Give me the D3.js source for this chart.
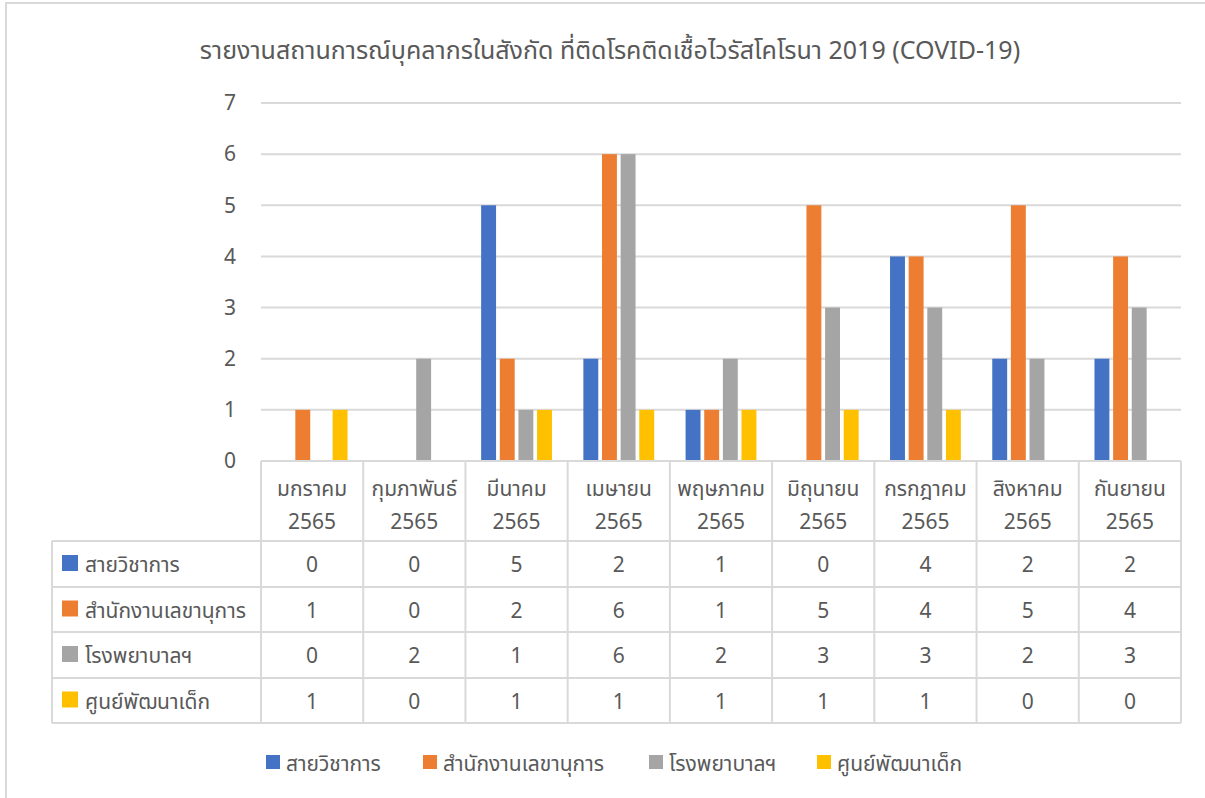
<!DOCTYPE html>
<html>
<head>
<meta charset="utf-8">
<script src="https://cdn.jsdelivr.net/npm/d3@7"></script>
<style>
  body { margin: 0; background: #fff; }
  svg text { font-family: "Noto Sans Thai", "Noto Sans", "DejaVu Sans", sans-serif; fill: #595959; }
</style>
</head>
<body>
<div id="chart"></div>
<script>
// data
const months = ["มกราคม", "กุมภาพันธ์", "มีนาคม", "เมษายน", "พฤษภาคม", "มิถุนายน", "กรกฎาคม", "สิงหาคม", "กันยายน"];
const year = "2565";
const seriesNames = ["สายวิชาการ", "สำนักงานเลขานุการ", "โรงพยาบาลฯ", "ศูนย์พัฒนาเด็ก"];
const academic = [0, 0, 5, 2, 1, 0, 4, 2, 2];
const secretariat = [1, 0, 2, 6, 1, 5, 4, 5, 4];
const hospital = [0, 2, 1, 6, 2, 3, 3, 2, 3];
const childCenter = [1, 0, 1, 1, 1, 1, 1, 0, 0];
const yTicks = [0, 1, 2, 3, 4, 5, 6, 7];
const colors = ["#4472C4", "#ED7D31", "#A5A5A5", "#FFC000"];
const title = "รายงานสถานการณ์บุคลากรในสังกัด ที่ติดโรคติดเชื้อไวรัสโคโรนา 2019 (COVID-19)";

const series = [academic, secretariat, hospital, childCenter];

const W = 1205, H = 798;
const fs = "21px";
const svg = d3.select("#chart").append("svg")
    .attr("width", W)
    .attr("height", H);

// outer frame
svg.append("rect")
    .attr("x", 6).attr("y", 3)
    .attr("width", W + 10).attr("height", H + 10)
    .attr("fill", "#fff")
    .attr("stroke", "#d9d9d9")
    .attr("stroke-width", 2);

svg.append("text")
    .attr("x", 610).attr("y", 59)
    .attr("text-anchor", "middle")
    .style("font-size", "25px")
    .text(title);

const plotLeft = 261, plotRight = 1181, plotTop = 103, plotBottom = 461;
const tableLeft = 52;
const rowLines = [541, 587, 632, 678, 723];

let x0 = d3.scaleBand()
    .domain(months)
    .range([plotLeft, plotRight])
    .padding(0);

let inset = 15.7;
let x1 = d3.scaleBand()
    .domain(d3.range(seriesNames.length))
    .range([inset, x0.bandwidth() - inset])
    .paddingInner(0.2);

let y = d3.scaleLinear()
    .domain([0, 7])
    .range([plotBottom, plotTop]);

// gridlines
svg.append("g")
    .selectAll("line")
    .data(yTicks.filter(d => d > 0))
    .enter()
    .append("line")
    .attr("x1", plotLeft).attr("x2", plotRight)
    .attr("y1", d => y(d)).attr("y2", d => y(d))
    .attr("stroke", "#d9d9d9")
    .attr("stroke-width", 2);

// y axis labels
let yAxis = svg.append("g")
    .attr("transform", "translate(" + (plotLeft - 25) + ",0)")
    .call(d3.axisLeft(y).tickValues(yTicks).tickFormat(d3.format("d")).tickSize(0).tickPadding(0));
yAxis.select(".domain").remove();
yAxis.selectAll("text")
    .style("font-size", fs)
    .attr("fill", "#595959");

// bars
const barData = [];
series.forEach((vals, s) => {
    vals.forEach((v, i) => barData.push({month: months[i], s: s, value: v}));
});

svg.append("g")
    .selectAll("rect")
    .data(barData.filter(d => d.value > 0))
    .enter()
    .append("rect")
    .attr("x", d => x0(d.month) + x1(d.s))
    .attr("width", x1.bandwidth())
    .attr("y", d => y(d.value))
    .attr("height", d => y(0) - y(d.value))
    .attr("fill", d => colors[d.s]);

// data table
const table = svg.append("g");
const lineColor = "#d9d9d9";

// horizontal lines
table.append("line")
    .attr("x1", plotLeft).attr("x2", plotRight)
    .attr("y1", plotBottom).attr("y2", plotBottom)
    .attr("stroke", lineColor).attr("stroke-width", 2);
rowLines.forEach(yy => {
    table.append("line")
        .attr("x1", tableLeft).attr("x2", plotRight)
        .attr("y1", yy).attr("y2", yy)
        .attr("stroke", lineColor).attr("stroke-width", 2);
});

// vertical lines
const vx = months.map(m => x0(m)).concat([plotRight]);
vx.forEach(xx => {
    table.append("line")
        .attr("x1", xx).attr("x2", xx)
        .attr("y1", plotBottom).attr("y2", rowLines[rowLines.length - 1])
        .attr("stroke", lineColor).attr("stroke-width", 2);
});
table.append("line")
    .attr("x1", tableLeft).attr("x2", tableLeft)
    .attr("y1", rowLines[0]).attr("y2", rowLines[rowLines.length - 1])
    .attr("stroke", lineColor).attr("stroke-width", 2);

// category header
months.forEach(m => {
    let cx = x0(m) + x0.bandwidth() / 2;
    table.append("text")
        .attr("x", cx).attr("y", 496)
        .attr("text-anchor", "middle")
        .style("font-size", fs)
        .text(m);
    table.append("text")
        .attr("x", cx).attr("y", 529)
        .attr("text-anchor", "middle")
        .style("font-size", fs)
        .text(year);
});

// rows
seriesNames.forEach((name, s) => {
    let top = rowLines[s], bot = rowLines[s + 1];
    let cy = (top + bot) / 2;
    table.append("rect")
        .attr("x", 62).attr("y", cy - 9)
        .attr("width", 16).attr("height", 16)
        .attr("fill", colors[s]);
    table.append("text")
        .attr("x", 85).attr("y", cy + 8)
        .style("font-size", fs)
        .text(name);
    series[s].forEach((v, i) => {
        table.append("text")
            .attr("x", x0(months[i]) + x0.bandwidth() / 2)
            .attr("y", cy + 8)
            .attr("text-anchor", "middle")
            .style("font-size", fs)
            .text(v);
    });
});

// legend
const legendX = [266, 423, 649, 817];
const legend = svg.append("g");
seriesNames.forEach((name, s) => {
    legend.append("rect")
        .attr("x", legendX[s]).attr("y", 755)
        .attr("width", 14).attr("height", 14)
        .attr("fill", colors[s]);
    legend.append("text")
        .attr("x", legendX[s] + 20).attr("y", 771)
        .style("font-size", fs)
        .text(name);
});
</script>
</body>
</html>
